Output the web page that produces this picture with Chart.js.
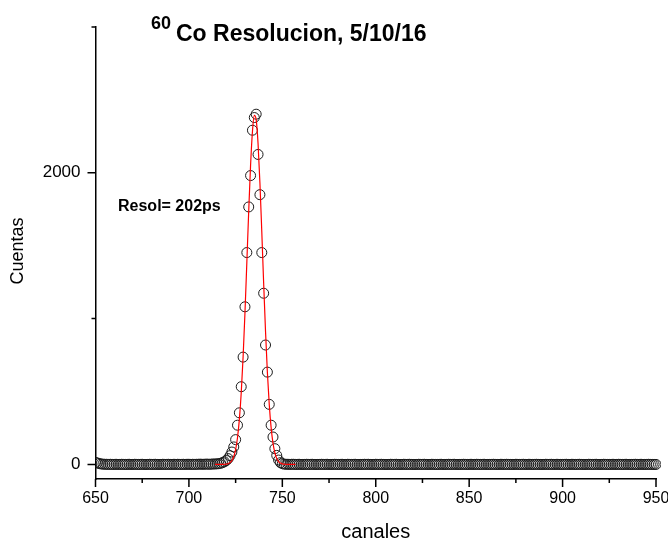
<!DOCTYPE html>
<html>
<head>
<meta charset="utf-8">
<title>60Co Resolucion</title>
<script src="https://cdn.jsdelivr.net/npm/chart.js@4/dist/chart.umd.min.js"></script>
<style>
  html, body { margin: 0; padding: 0; background: #fff; }
  #wrap { width: 668px; height: 541px; position: relative; }
</style>
</head>
<body>
<div id="wrap"><canvas id="spectrum"></canvas></div>
<script>
// multichannel spectrum, counts per channel starting at channel 650
const firstChannel = 650;
const counts = [
  14, 10, 6, 3, 2, 1, 1, 0, 1, 0, 0, 1, 0, 0, 1, 0, 0, 0, 1, 0,
  0, 1, 0, 0, 0, 1, 0, 0, 0, 1, 0, 0, 1, 0, 0, 0, 1, 0, 0, 1,
  0, 0, 1, 0, 1, 0, 0, 1, 0, 1, 1, 0, 1, 0, 1, 1, 2, 1, 1, 2,
  2, 1, 2, 3, 3, 4,
  5, 8, 12, 18, 27, 40, 60, 85, 120, 170, 269, 354, 533, 736, 1081, 1453, 1766, 1981, 2292, 2379,
  2402, 2126, 1850, 1453, 1174, 819, 633, 412, 269, 188, 108, 62, 30, 12, 5, 2, 1, 1, 0, 1,
  1, 0, 0, 1, 0, 0, 0, 1, 0, 0, 1, 0, 0, 0, 0, 1, 0, 0, 1, 0,
  0, 0, 1, 0, 0, 0, 1, 0, 0, 1, 0, 0, 0, 1, 0, 0, 0, 0, 1, 0,
  1, 0, 0, 0, 1, 0, 0, 1, 0, 0, 0, 0, 1, 0, 0, 1, 0, 0, 0, 1,
  0, 0, 1, 0, 0, 0, 0, 1, 0, 0, 1, 0, 0, 0, 1, 0, 0, 0, 0, 1,
  0, 0, 0, 1, 0, 0, 1, 0, 0, 0, 0, 1, 0, 0, 0, 1, 0, 0, 1, 0,
  0, 0, 1, 0, 0, 0, 0, 1, 0, 0, 0, 1, 0, 0, 1, 0, 0, 0, 0, 1,
  0, 0, 0, 1, 0, 0, 1, 0, 0, 0, 1, 0, 0, 0, 0, 1, 0, 0, 1, 0,
  0, 1, 0, 0, 0, 0, 1, 0, 0, 1, 0, 0, 0, 1, 0, 0, 0, 0, 1, 0,
  0, 0, 1, 0, 0, 0, 1, 0, 0, 0, 0, 1, 0, 0, 1, 0, 0, 0, 1, 0,
  0, 0, 0, 1, 0, 0, 1, 0, 0, 0, 1, 0, 0, 0, 0
];

// gaussian fit curve, channels 714..757
const fitStart = 714;
const fitCounts = [
  0, 0, 0, 0, 0, 1, 2, 5, 12, 27,
  54, 102, 183, 309, 492, 737, 1040, 1385, 1736, 2051,
  2282, 2394, 2365, 2202, 1932, 1597, 1244, 913, 631, 411,
  252, 146, 80, 41, 20, 9, 4, 2, 1, 0,
  0, 0, 0, 0
];

const xMajor = [650, 700, 750, 800, 850, 900, 950];
const xMinor = [675, 725, 775, 825, 875, 925];
const yMajor = [0, 2000];
const yMinor = [1000, 3000];

const titleSup = "60";
const titleMain = "Co Resolucion, 5/10/16";
const resolText = "Resol= 202ps";
const xTitle = "canales";
const yTitle = "Cuentas";

const FONT = "'Liberation Sans', Arial, sans-serif";

const points = counts.map((c, i) => ({ x: firstChannel + i, y: c }));
const fit = fitCounts.map((c, i) => ({ x: fitStart + i, y: c }));

// tick marks, titles and the resolution note
const decorations = {
  id: "decorations",
  afterDraw(chart) {
    const ctx = chart.ctx;
    const xs = chart.scales.x;
    const ys = chart.scales.y;
    const area = chart.chartArea;
    ctx.save();
    ctx.strokeStyle = "#000";
    ctx.lineWidth = 1.5;
    ctx.beginPath();
    xMajor.forEach(v => {
      const px = xs.getPixelForValue(v);
      ctx.moveTo(px, area.bottom); ctx.lineTo(px, area.bottom + 8);
    });
    xMinor.forEach(v => {
      const px = xs.getPixelForValue(v);
      ctx.moveTo(px, area.bottom); ctx.lineTo(px, area.bottom + 4);
    });
    yMajor.forEach(v => {
      const py = ys.getPixelForValue(v);
      ctx.moveTo(area.left, py); ctx.lineTo(area.left - 8, py);
    });
    yMinor.forEach(v => {
      const py = ys.getPixelForValue(v);
      ctx.moveTo(area.left, py); ctx.lineTo(area.left - 4, py);
    });
    ctx.stroke();

    ctx.fillStyle = "#000";
    ctx.textBaseline = "alphabetic";
    ctx.textAlign = "left";
    ctx.font = "bold 18px " + FONT;
    ctx.fillText(titleSup, 151, 29);
    ctx.font = "bold 23px " + FONT;
    ctx.fillText(titleMain, 176, 41);

    ctx.font = "bold 16px " + FONT;
    ctx.fillText(resolText, 118, 211);

    ctx.font = "20px " + FONT;
    ctx.textAlign = "center";
    ctx.textBaseline = "middle";
    ctx.fillText(xTitle, (area.left + area.right) / 2, 532);
    ctx.font = "18px " + FONT;
    ctx.translate(18, 251);
    ctx.rotate(-Math.PI / 2);
    ctx.fillText(yTitle, 0, 0);
    ctx.restore();
  }
};

new Chart(document.getElementById("spectrum"), {
  type: "scatter",
  data: {
    datasets: [
      {
        label: "fit",
        data: fit,
        showLine: true,
        borderColor: "#ff0000",
        borderWidth: 1.2,
        pointRadius: 0,
        cubicInterpolationMode: "monotone",
        order: 1
      },
      {
        label: "cuentas",
        data: points,
        pointStyle: "circle",
        pointRadius: 5,
        borderWidth: 1,
        borderColor: "#1a1a1a",
        backgroundColor: "rgba(0,0,0,0)",
        clip: { left: 0, top: 10, right: 5, bottom: 10 },
        order: 2
      }
    ]
  },
  options: {
    responsive: true,
    maintainAspectRatio: false,
    animation: false,
    layout: { padding: { left: 0, right: 0, top: 27, bottom: 0 } },
    plugins: { legend: { display: false }, tooltip: { enabled: false }, title: { display: false } },
    scales: {
      x: {
        type: "linear",
        min: 650,
        max: 950,
        grid: { display: false, drawTicks: false },
        border: { display: true, color: "#000", width: 1.5 },
        ticks: {
          stepSize: 50,
          autoSkip: false,
          maxRotation: 0,
          padding: 10,
          color: "#000",
          font: { family: FONT, size: 16 }
        },
        afterFit(scale) {
          scale.height = 62;
          scale.paddingRight = 12;
        }
      },
      y: {
        min: -100,
        max: 3000,
        grid: { display: false, drawTicks: false },
        border: { display: true, color: "#000", width: 1.5 },
        ticks: {
          padding: 15,
          color: "#000",
          font: { family: FONT, size: 17 },
          callback: v => String(v)
        },
        afterBuildTicks(scale) { scale.ticks = yMajor.map(v => ({ value: v })); },
        afterFit(scale) { scale.width = 95.5; }
      }
    }
  },
  plugins: [decorations]
});
</script>
</body>
</html>
